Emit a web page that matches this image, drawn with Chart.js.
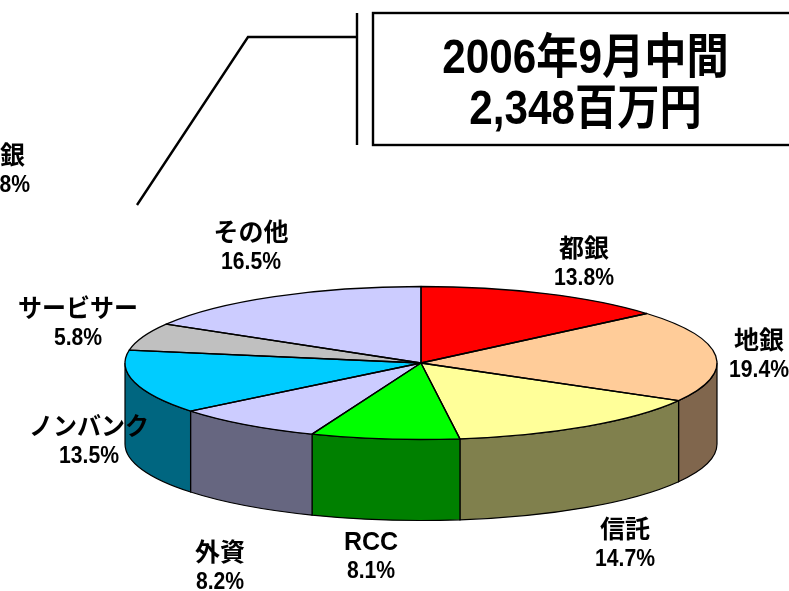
<!DOCTYPE html>
<html>
<head>
<meta charset="utf-8">
<style>
  html, body { margin: 0; padding: 0; background: #fff; overflow: hidden; }
  canvas { display: block; }
</style>
<script src="https://cdn.jsdelivr.net/npm/chart.js@4"></script>
</head>
<body>
<canvas id="pieChart" width="789" height="591"></canvas>
<script>
// Data
const categories = ['都銀', '地銀', '信託', 'RCC', '外資', 'ノンバンク', 'サービサー', 'その他'];
const shares = [13.8, 19.4, 14.7, 8.1, 8.2, 13.5, 5.8, 16.5];
const topColors = ['#FF0000', '#FFCC99', '#FFFF99', '#00FF00', '#CCCCFF', '#00CCFF', '#C0C0C0', '#CCCCFF'];
const titleLines = ['2006年9月中間', '2,348百万円'];
// label of the neighbouring pie, cut off by the left edge in the source
const croppedLabel = ['地銀', '19.8%'];

// Layout
const PIE = { cx: 421, cy: 363, rx: 296, ry: 76.5, depth: 81 };
const labelCenters = [[584, 250], [759, 342], [625, 531], [371, 543], [220, 554], [89, 428], [78, 310], [251, 234]];
const LINE_GAP = 29;
const FONT_STACK = '"Liberation Sans", "Noto Sans CJK JP"';
const NAME_FONT = 'bold 25px ' + FONT_STACK;
const VALUE_FONT = 'bold 23px ' + FONT_STACK;
const TITLE_FONT = 'bold 48px ' + FONT_STACK;

function halfTone(hex) {
    const n = parseInt(hex.slice(1), 16);
    const r = Math.round((n >> 16) / 2), g = Math.round(((n >> 8) & 255) / 2), b = Math.round((n & 255) / 2);
    return `rgb(${r},${g},${b})`;
}

// source glyphs are narrower than these fonts
function fillNarrow(ctx, text, x, y, ratio) {
    ctx.fillText(text, x, y, ctx.measureText(text).width * ratio);
}

function drawLabel(ctx, lines, x, y) {
    ctx.font = NAME_FONT;
    fillNarrow(ctx, lines[0], x, y, lines[0].length === 5 ? 0.96 : 1);
    ctx.font = VALUE_FONT;
    fillNarrow(ctx, lines[1], x, y + LINE_GAP, 0.92);
}

// Squash the pie into an ellipse and add the side wall
const pie3d = {
    id: 'pie3d',
    beforeDatasetsDraw(chart) {
        const ctx = chart.ctx;
        const arcs = chart.getDatasetMeta(0).data;
        ctx.save();
        ctx.strokeStyle = '#000';
        ctx.lineWidth = 1.2;
        arcs.forEach((arc, i) => {
            const a1 = Math.max(arc.startAngle, 0);
            const a2 = Math.min(arc.endAngle, Math.PI);
            if (a2 <= a1) return;
            ctx.beginPath();
            ctx.ellipse(PIE.cx, PIE.cy, PIE.rx, PIE.ry, 0, a1, a2);
            ctx.ellipse(PIE.cx, PIE.cy + PIE.depth, PIE.rx, PIE.ry, 0, a2, a1, true);
            ctx.closePath();
            ctx.fillStyle = halfTone(topColors[i]);
            ctx.fill();
            ctx.stroke();
        });
        ctx.restore();
        const first = arcs[0];
        ctx.save();
        ctx.translate(PIE.cx, PIE.cy);
        ctx.scale(PIE.rx / first.outerRadius, PIE.ry / first.outerRadius);
        ctx.translate(-first.x, -first.y);
    },
    afterDatasetsDraw(chart) {
        const ctx = chart.ctx;
        ctx.restore();
        // outlines stroked here so the squash does not thin them
        ctx.save();
        ctx.strokeStyle = '#000';
        ctx.lineWidth = 1.3;
        ctx.lineJoin = 'round';
        chart.getDatasetMeta(0).data.forEach(arc => {
            ctx.beginPath();
            ctx.moveTo(PIE.cx, PIE.cy);
            ctx.ellipse(PIE.cx, PIE.cy, PIE.rx, PIE.ry, 0, arc.startAngle, arc.endAngle);
            ctx.closePath();
            ctx.stroke();
        });
        ctx.restore();
    },
    afterDraw(chart) {
        const ctx = chart.ctx;
        ctx.save();
        // title box, open past the right edge
        ctx.strokeStyle = '#000';
        ctx.lineWidth = 2.4;
        ctx.strokeRect(373, 13, 440, 132);
        // leader line
        ctx.beginPath();
        ctx.moveTo(357, 13);
        ctx.lineTo(357, 145);
        ctx.moveTo(357, 37);
        ctx.lineTo(248, 37);
        ctx.lineTo(137, 205);
        ctx.stroke();

        ctx.fillStyle = '#000';
        ctx.textAlign = 'center';
        ctx.textBaseline = 'middle';
        ctx.font = TITLE_FONT;
        fillNarrow(ctx, titleLines[0], 585.5, 60, 0.88);
        fillNarrow(ctx, titleLines[1], 585.5, 111, 0.88);

        categories.forEach((name, i) => {
            const [x, y] = labelCenters[i];
            drawLabel(ctx, [name, shares[i].toFixed(1) + '%'], x, y);
        });
        drawLabel(ctx, croppedLabel, 0, 157);
        ctx.restore();
    }
};

new Chart(document.getElementById('pieChart'), {
    type: 'pie',
    data: {
        labels: categories,
        datasets: [{
            data: shares,
            backgroundColor: topColors,
            borderWidth: 0,
            clip: false
        }]
    },
    options: {
        responsive: false,
        animation: false,
        plugins: {
            legend: { display: false },
            tooltip: { enabled: false },
            title: { display: false }
        }
    },
    plugins: [pie3d]
});
</script>
</body>
</html>
